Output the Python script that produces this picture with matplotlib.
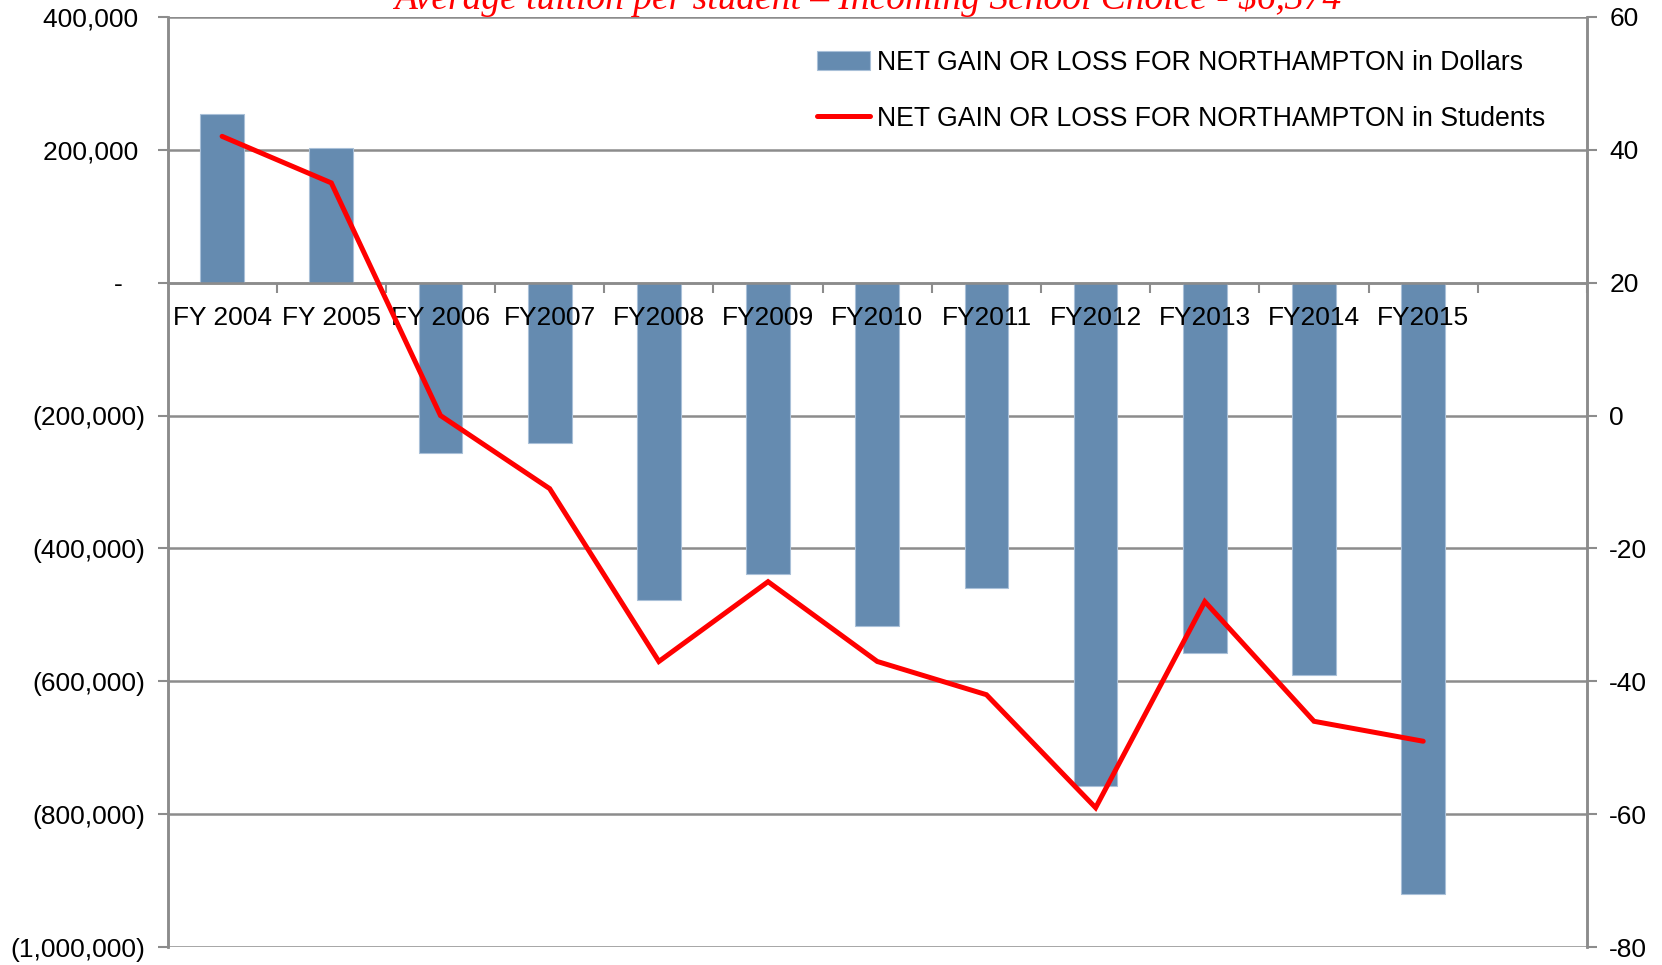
import matplotlib
matplotlib.use("Agg")
import matplotlib.pyplot as plt
import numpy as np
from matplotlib.ticker import FixedLocator, FuncFormatter

plt.rcParams['font.family'] = ['Liberation Sans', 'DejaVu Sans']
plt.rcParams['axes.unicode_minus'] = False

# data
years = ['FY 2004', 'FY 2005', 'FY 2006', 'FY2007', 'FY2008', 'FY2009',
         'FY2010', 'FY2011', 'FY2012', 'FY2013', 'FY2014', 'FY2015']
dollars = [254000, 203000, -257000, -241000, -478000, -439000,
           -516000, -459000, -758000, -558000, -590000, -920000]
students = [42, 35, 0, -11, -37, -25, -37, -42, -59, -28, -46, -49]

title = "Average tuition per student \u2013 Incoming School Choice - $6,374"
label_dollars = "NET GAIN OR LOSS FOR NORTHAMPTON in Dollars"
label_students = "NET GAIN OR LOSS FOR NORTHAMPTON in Students"

bar_color = '#658bb0'
grid_color = '#8c8c8c'
fs = 19

fig = plt.figure(figsize=(16.62, 9.65), dpi=100)
ax = fig.add_axes([167.5 / 1662, 1 - 947.3 / 965, (1587 - 167.5) / 1662, (947.3 - 16.7) / 965])
ax2 = ax.twinx()

x = np.arange(len(years))
bars = ax.bar(x, dollars, width=0.40, color=bar_color, edgecolor='#a9c0d8',
              linewidth=0.8, zorder=2, label=label_dollars)
line, = ax2.plot(x, students, color='#ff0000', lw=3.6, solid_joinstyle='miter',
                 solid_capstyle='round', label=label_students)

# left axis
ax.set_xlim(-0.5, len(years) + 0.5)
ax.set_ylim(-1000000, 400000)
ax.set_yticks(np.arange(-1000000, 400001, 200000))


def money(v, pos):
    if v == 0:
        return '-   '
    if v < 0:
        return '({:,.0f})'.format(-v)
    return '{:,.0f} '.format(v)


ax.yaxis.set_major_formatter(FuncFormatter(money))
ax.yaxis.grid(True, color=grid_color, lw=1.8, zorder=0)
ax.set_axisbelow(True)
ax.tick_params(axis='y', direction='out', length=7, width=1.5, color=grid_color,
               labelsize=fs, pad=9)

# right axis
ax2.set_ylim(-80, 60)
ax2.set_yticks(np.arange(-80, 61, 20))
ax2.tick_params(axis='y', direction='out', length=7, width=1.5, color=grid_color,
                labelsize=fs, pad=9)

# category axis crossing at zero, labels drawn over the bars
ax.spines['bottom'].set_position(('data', 0))
ax.set_xticks(x)
ax.set_xticklabels(years)
ax.xaxis.set_minor_locator(FixedLocator(np.arange(0.5, len(years) + 0.6, 1)))
ax.tick_params(axis='x', which='major', length=0, labelsize=fs, pad=17)
ax.tick_params(axis='x', which='minor', length=7, width=1.5, color=grid_color)
ax.xaxis.set_zorder(3)

for a in (ax, ax2):
    a.spines['top'].set_visible(False)
    for s in ('left', 'right', 'bottom'):
        a.spines[s].set_color(grid_color)
        a.spines[s].set_linewidth(1.8)
ax2.spines['bottom'].set_visible(False)
ax.set_zorder(1)
ax2.set_zorder(2)
ax.patch.set_visible(False)

leg = ax2.legend([bars, line], [label_dollars, label_students],
                 loc='upper left', bbox_to_anchor=(817 / 1662, 1 - 50 / 965),
                 bbox_transform=fig.transFigure, frameon=False, fontsize=19.15,
                 handlelength=2.0, handletextpad=0.25, labelspacing=1.12,
                 borderpad=0, borderaxespad=0)

fig.text(868 / 1662, 1 - 9 / 965, title, ha='center', va='baseline',
         color='#ff0000', fontsize=27, style='italic', family='Liberation Serif')

fig.savefig('out.png', dpi=100)
